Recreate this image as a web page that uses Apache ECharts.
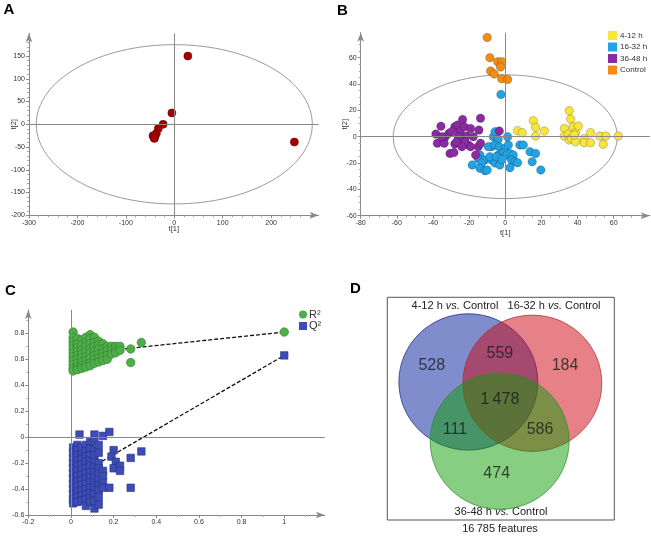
<!DOCTYPE html>
<html><head><meta charset="utf-8">
<script src="https://cdn.jsdelivr.net/npm/echarts@6/dist/echarts.min.js"></script>
<style>html,body{margin:0;padding:0;background:#fff}#c{width:651px;height:536px}</style>
</head><body><div id="c"></div>
<script>
// ---------- Panel A : PCA score plot ----------
const scoresA = [[28,150],[248,-39],[-5,25],[-23,0],[-33,-9],[-37,-20],[-40,-26],[-42,-29],[-44,-25],[-41,-31]];
const ellipseA = [[0,0,285,175]];
const ticksAx = [-300,-200,-100,0,100,200];
const ticksAy = [-200,-150,-100,-50,0,50,100,150];

// ---------- Panel B : PCA score plot by group ----------
const groupNames = ['4-12 h','16-32 h','36-48 h','Control'];
const groupColors = ['#f7e53b','#23a2e4','#8b2ba3','#f28c14'];
const scores412 = [[6.8,4.6],[9.4,3],[15.5,12.2],[16.8,7.1],[16.8,0.5],[21.6,4.3],[32.7,6.3],[35.4,19.7],[36.2,13.4],[32.7,0.5],[34.9,1.8],[35.4,-2.5],[36.7,-1.3],[37.6,7.6],[38.9,3],[38.9,-3.8],[40.4,8.1],[38.2,1.3],[43.7,-1.5],[43.7,-4.6],[47.2,-4.6],[47.2,3],[52.4,0.5],[54.2,-5.8],[55.7,0.5],[62.5,0.5]];
const scores1632 = [[-2.4,32],[-6.6,0],[-5.7,3.8],[-3.9,-2],[-7.6,-7.6],[-9.4,-7.6],[-5.7,-6.3],[-3.3,-7.6],[0,-8.9],[1.3,0],[1.7,-6.3],[-14,-13.9],[-15,-16.5],[-11.3,-17.7],[-13.1,-20],[-18.3,-21.5],[-14,-24],[-11.3,-25.8],[-10,-25.3],[-7.6,-17.7],[-5.7,-20],[-3,-21.5],[-3.9,-13.9],[-1.1,-12.7],[0.7,-13.9],[2.6,-12.7],[4.4,-13.9],[3.5,-17.7],[5.4,-19],[6.8,-19.7],[2.6,-23.5],[8.1,-6.3],[10,-6.3],[13.7,-11.4],[16.8,-12.7],[14.9,-19],[19.7,-25.3],[-8.5,-15.2],[-4.8,-15.2],[-1.7,-17.2]];
const scores3648 = [[-38.4,2],[-35.6,8],[-37.6,-5],[-33.4,-0.5],[-33.8,-5],[-31.2,2.5],[-30.6,-12.7],[-28.4,-12],[-27.9,7.6],[-26.4,8.9],[-23.6,13],[-25,3.8],[-23.6,-2.5],[-22.7,7.6],[-25,-5],[-26,0],[-21.4,0.5],[-19.2,6.3],[-17.7,0],[-20.5,-6.3],[-19.2,-7.6],[-16.4,-13.9],[-15,-7.6],[-13.7,-5],[-14.6,5],[-13.7,14],[-3.3,4.3],[-27.9,-5.6],[-29.7,3.8],[-26.9,-3.8],[-22.3,-3.8],[-24,-7.6],[-35,0]];
const scoresControl = [[-10,75.4],[-8.5,60],[-4.2,57],[-2,57],[-2.6,53],[-8.1,49.9],[-6.1,47.6],[-2,44],[1.3,43.5]];
const ellipseB = [[0,0,62,47]];
const ticksBx = [-80,-60,-40,-20,0,20,40,60];
const ticksBy = [-60,-40,-20,0,20,40,60];

// ---------- Panel C : permutation test ----------
const r2Points = [
 [0.01,0.81],[0.01,0.77],[0.01,0.74],[0.01,0.71],[0.01,0.68],[0.01,0.65],[0.01,0.62],[0.01,0.59],[0.01,0.56],[0.01,0.53],[0.01,0.51],
 [0.03,0.76],[0.03,0.72],[0.03,0.69],[0.03,0.66],[0.03,0.63],[0.03,0.60],[0.03,0.57],[0.03,0.54],[0.03,0.52],
 [0.05,0.75],[0.05,0.71],[0.05,0.67],[0.05,0.64],[0.05,0.61],[0.05,0.58],[0.05,0.55],[0.05,0.53],
 [0.07,0.77],[0.07,0.73],[0.07,0.70],[0.07,0.66],[0.07,0.62],[0.07,0.59],[0.07,0.56],[0.07,0.54],
 [0.09,0.79],[0.09,0.76],[0.09,0.72],[0.09,0.68],[0.09,0.65],[0.09,0.61],[0.09,0.57],[0.09,0.55],
 [0.11,0.77],[0.11,0.73],[0.11,0.70],[0.11,0.66],[0.11,0.63],[0.11,0.60],[0.11,0.57],
 [0.13,0.74],[0.13,0.71],[0.13,0.68],[0.13,0.64],[0.13,0.61],[0.13,0.58],
 [0.15,0.72],[0.15,0.68],[0.15,0.65],[0.15,0.62],[0.15,0.59],
 [0.17,0.70],[0.17,0.67],[0.17,0.63],[0.17,0.60],
 [0.19,0.70],[0.19,0.67],[0.19,0.64],
 [0.21,0.70],[0.21,0.67],[0.21,0.65],
 [0.23,0.70],[0.23,0.67],
 [0.28,0.68],[0.28,0.575],[0.33,0.73],[1.0,0.81]];
const q2Points = [
 [0.01,-0.08],[0.01,-0.12],[0.01,-0.16],[0.01,-0.20],[0.01,-0.24],[0.01,-0.28],[0.01,-0.32],[0.01,-0.36],[0.01,-0.40],[0.01,-0.44],[0.01,-0.48],[0.01,-0.51],
 [0.03,-0.06],[0.03,-0.10],[0.03,-0.14],[0.03,-0.18],[0.03,-0.22],[0.03,-0.26],[0.03,-0.30],[0.03,-0.34],[0.03,-0.38],[0.03,-0.42],[0.03,-0.46],[0.03,-0.50],
 [0.04,0.02],
 [0.05,-0.08],[0.05,-0.13],[0.05,-0.17],[0.05,-0.21],[0.05,-0.25],[0.05,-0.29],[0.05,-0.33],[0.05,-0.37],[0.05,-0.41],[0.05,-0.45],[0.05,-0.49],
 [0.07,-0.06],[0.07,-0.11],[0.07,-0.15],[0.07,-0.19],[0.07,-0.24],[0.07,-0.28],[0.07,-0.32],[0.07,-0.36],[0.07,-0.40],[0.07,-0.44],[0.07,-0.48],[0.07,-0.53],
 [0.09,-0.03],[0.09,-0.09],[0.09,-0.14],[0.09,-0.18],[0.09,-0.22],[0.09,-0.27],[0.09,-0.31],[0.09,-0.35],[0.09,-0.39],[0.09,-0.43],[0.09,-0.47],[0.09,-0.50],
 [0.11,0.02],[0.11,-0.03],[0.11,-0.10],[0.11,-0.14],[0.11,-0.19],[0.11,-0.23],[0.11,-0.27],[0.11,-0.31],[0.11,-0.35],[0.11,-0.39],[0.11,-0.44],[0.11,-0.49],[0.11,-0.55],
 [0.13,-0.06],[0.13,-0.12],[0.13,-0.20],[0.13,-0.24],[0.13,-0.28],[0.13,-0.33],[0.13,-0.37],[0.13,-0.41],[0.13,-0.46],[0.13,-0.52],
 [0.15,0.01],[0.15,-0.26],[0.15,-0.30],[0.15,-0.35],[0.15,-0.39],[0.18,0.04],
 [0.20,-0.10],[0.19,-0.15],[0.21,-0.19],[0.20,-0.24],[0.23,-0.22],[0.23,-0.26],[0.28,-0.16],[0.33,-0.11],[0.28,-0.39],[0.18,-0.39],
 [1.0,0.63]];
const r2Fit = [[0,0.637],[1,0.81]];
const q2Fit = [[0,-0.325],[1,0.63]];
const ticksCx = [-0.2,0,0.2,0.4,0.6,0.8,1];
const ticksCy = [-0.6,-0.4,-0.2,0,0.2,0.4,0.6,0.8];

// ---------- Panel D : Venn diagram ----------
const vennSetNames = ['4-12 h', '16-32 h', '36-48 h'];
const vennCounts = [528, 559, 184, 1478, 111, 586, 474];
const totalFeatures = 16785;
// layout of the diagram (in the panel's own 0-100 frame)
const vennCircles = [[35.7,62,30.6],[63.9,61.4,30.6],[49.5,35.4,30.6]];
const vennFill = ['rgba(0,28,155,0.5)','rgba(205,5,15,0.5)','rgba(15,155,5,0.5)'];
const vennStroke = ['rgba(40,50,140,0.8)','rgba(170,40,50,0.7)','rgba(40,140,40,0.7)'];
const vennLabelPos = [[19.6,69.5],[49.6,74.9],[78.3,69.5],[49.6,54.1],[29.8,40.4],[67.3,40.4],[48.2,20.9]];

const F = '"Liberation Sans", Arial, sans-serif';
const fmtThousands = v => String(v).replace(/\B(?=(\d{3})+(?!\d))/g, '\u2009');

function mkAxis(gridIndex, min, max, interval, ticks, minorSplit, name, nameGap) {
  return {
    type: 'value', gridIndex, min, max, interval,
    name: name || '', nameLocation: 'middle', nameGap: nameGap || 0, nameMoveOverlap: false,
    nameTextStyle: {fontSize: 7.5, color: '#333', fontFamily: F},
    axisLine: {show: true, onZero: false, symbol: ['none', 'arrow'], symbolSize: [5, 9], lineStyle: {color: '#888', width: 1}},
    axisTick: {show: true, length: 3, customValues: ticks, lineStyle: {color: '#888'}},
    minorTick: {show: true, splitNumber: minorSplit, length: 2, lineStyle: {color: '#aaa'}},
    axisLabel: {customValues: ticks, fontSize: 7, color: '#333', margin: 4, fontFamily: F},
    splitLine: {show: false}
  };
}
function ellipseItem(params, api) {
  const c = api.coord([api.value(0), api.value(1)]);
  const s = api.size([api.value(2), api.value(3)]);
  return {type: 'ellipse', shape: {cx: c[0], cy: c[1], rx: s[0], ry: s[1]},
          style: {fill: 'none', stroke: '#9a9a9a', lineWidth: 1}};
}
const cross = {silent: true, symbol: 'none', label: {show: false},
  lineStyle: {color: '#888', type: 'solid', width: 1}, emphasis: {disabled: true},
  data: [{xAxis: 0}, {yAxis: 0}]};

const chart = echarts.init(document.getElementById('c'));
const series = [];
// A
series.push({type: 'custom', xAxisIndex: 0, yAxisIndex: 0, renderItem: ellipseItem, data: ellipseA, silent: true, clip: false, z: 1});
series.push({type: 'scatter', name: 'A', xAxisIndex: 0, yAxisIndex: 0, data: scoresA, symbolSize: 8,
  itemStyle: {color: '#a50000', borderColor: '#6a0000', borderWidth: 0.6, opacity: 1}, markLine: cross, z: 3});
// B
series.push({type: 'custom', xAxisIndex: 1, yAxisIndex: 1, renderItem: ellipseItem, data: ellipseB, silent: true, clip: false, z: 1});
[scores412, scores1632, scores3648, scoresControl].forEach((d, i) => {
  series.push({type: 'scatter', name: groupNames[i], xAxisIndex: 1, yAxisIndex: 1, data: d, symbolSize: 8.5,
    itemStyle: {color: groupColors[i], borderColor: 'rgba(0,0,0,0.35)', borderWidth: 0.6, opacity: 1},
    markLine: i === 0 ? cross : undefined, z: 3});
});
// C
series.push({type: 'line', name: 'r2fit', xAxisIndex: 2, yAxisIndex: 2, data: r2Fit, symbol: 'none',
  lineStyle: {color: '#111', width: 1.3, type: [4, 2]}, z: 2, silent: true});
series.push({type: 'line', name: 'q2fit', xAxisIndex: 2, yAxisIndex: 2, data: q2Fit, symbol: 'none',
  lineStyle: {color: '#111', width: 1.3, type: [4, 2]}, z: 2, silent: true});
series.push({type: 'scatter', name: 'R\u00b2', xAxisIndex: 2, yAxisIndex: 2, data: r2Points, symbol: 'circle', symbolSize: 8.5,
  itemStyle: {color: '#4fae4a', borderColor: '#2f7f2c', borderWidth: 0.6, opacity: 1}, z: 3});
series.push({type: 'scatter', name: 'Q\u00b2', xAxisIndex: 2, yAxisIndex: 2, data: q2Points, symbol: 'rect', symbolSize: 7.5,
  itemStyle: {color: '#3d4db3', borderColor: '#26338a', borderWidth: 0.6, opacity: 1}, markLine: cross, z: 3});
// D
series.push({type: 'custom', xAxisIndex: 3, yAxisIndex: 3, data: vennCircles, silent: true, clip: false, z: 1,
  renderItem: (params, api) => {
    const c = api.coord([api.value(0), api.value(1)]);
    const s = api.size([api.value(2), api.value(2)]);
    return {type: 'ellipse', shape: {cx: c[0], cy: c[1], rx: s[0], ry: s[1]},
      style: {fill: vennFill[params.dataIndex], stroke: vennStroke[params.dataIndex], lineWidth: 1}};
  }});
series.push({type: 'scatter', name: 'venn', xAxisIndex: 3, yAxisIndex: 3, symbolSize: 1, silent: true, z: 5,
  itemStyle: {color: 'rgba(0,0,0,0)'},
  data: vennLabelPos.map((p, i) => ({value: p, name: fmtThousands(vennCounts[i])})),
  label: {show: true, position: 'inside', formatter: '{b}', fontSize: 16, color: '#1b1b1b', fontFamily: F}});

const italicTitle = (t) => ({
  text: t + ' {i|vs.} Control', fontSize: 11, fontFamily: F, fill: '#222', align: 'center', verticalAlign: 'middle',
  rich: {i: {fontStyle: 'italic', fontSize: 11, fontFamily: F, fill: '#222'}}
});
const letter = (t, x, y) => ({type: 'text', x, y, style: {text: t, fontSize: 15, fontWeight: 'bold', fontFamily: F, fill: '#000', align: 'center', verticalAlign: 'middle'}});

chart.setOption({
  animation: false,
  backgroundColor: '#fff',
  grid: [
    {left: 29, right: 332.4, top: 33.3, bottom: 320.7},
    {left: 360.7, right: 1.2, top: 32.7, bottom: 320.3},
    {left: 28.3, right: 326.2, top: 310, bottom: 21},
    {left: 387.3, right: 36.7, top: 297.3, bottom: 16, show: true, borderColor: '#555', borderWidth: 1, backgroundColor: 'transparent'}
  ],
  xAxis: [
    mkAxis(0, -300, 298, 100, ticksAx, 5, 't[1]', 10),
    mkAxis(1, -80, 80, 20, ticksBx, 4, 't[1]', 13),
    mkAxis(2, -0.2, 1.19, 0.2, ticksCx, 2),
    {type: 'value', gridIndex: 3, min: 0, max: 100, show: false}
  ],
  yAxis: [
    mkAxis(0, -200, 200, 50, ticksAy, 5, 't[2]', 11),
    mkAxis(1, -60, 79, 20, ticksBy, 4, 't[2]', 12),
    mkAxis(2, -0.6, 0.98, 0.2, ticksCy, 2),
    {type: 'value', gridIndex: 3, min: 0, max: 100, show: false}
  ],
  legend: [
    {data: groupNames, orient: 'vertical', left: 608, top: 31, itemWidth: 9, itemHeight: 9, itemGap: 2.5, icon: 'rect',
     itemStyle: {borderWidth: 0},
     textStyle: {fontSize: 8, color: '#333', fontFamily: F, padding: [0, 0, 0, -2]}, selectedMode: false, padding: 0},
    {data: [{name: 'R\u00b2', icon: 'circle'}, {name: 'Q\u00b2', icon: 'rect'}], orient: 'vertical', left: 299, top: 309,
     itemWidth: 8, itemHeight: 8, itemGap: 0.5, itemStyle: {borderWidth: 0},
     textStyle: {fontSize: 11, lineHeight: 11, color: '#333', fontFamily: F, padding: [0, 0, 0, -3]},
     selectedMode: false, padding: 0}
  ],
  graphic: [
    letter('A', 9, 10), letter('B', 342.5, 10.5), letter('C', 10.5, 290.5), letter('D', 355.5, 288.5),
    {type: 'text', x: 455, y: 306, style: italicTitle(vennSetNames[0])},
    {type: 'text', x: 554, y: 306, style: italicTitle(vennSetNames[1])},
    {type: 'text', x: 501, y: 512, style: italicTitle(vennSetNames[2])},
    {type: 'text', x: 500, y: 528.5, style: {text: fmtThousands(totalFeatures) + ' features', fontSize: 11, fontFamily: F, fill: '#222', align: 'center', verticalAlign: 'middle'}}
  ],
  series
});
</script></body></html>
